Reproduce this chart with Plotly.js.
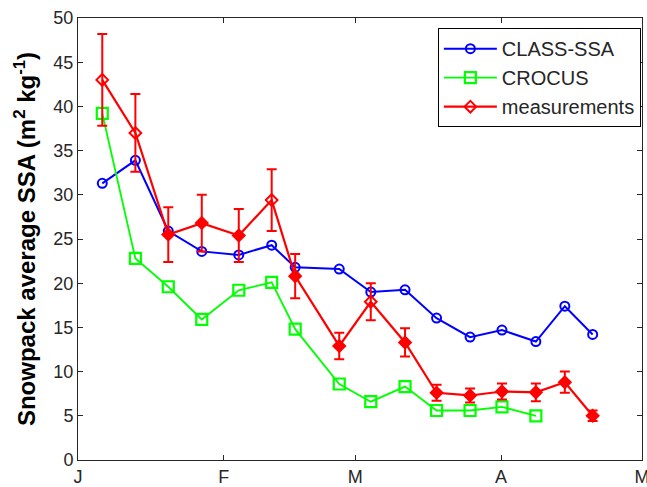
<!DOCTYPE html>
<html>
<head>
<meta charset="utf-8">
<script src="https://cdn.plot.ly/plotly-3.0.1.min.js"></script>
<style>html,body{margin:0;padding:0;background:#fff;}#chart{width:647px;height:487px;}</style>
</head>
<body>
<div id="chart"></div>
<script>
// Dates of observations (2011 season)
const dates = [
  "2011-01-06 04:00", "2011-01-13 05:00", "2011-01-20 05:00", "2011-01-27 08:00",
  "2011-02-04 05:00", "2011-02-11 05:00", "2011-02-16 05:00", "2011-02-25 14:00",
  "2011-03-04 07:00", "2011-03-11 14:00", "2011-03-18 07:00", "2011-03-25 10:00",
  "2011-04-01 05:00", "2011-04-08 10:00", "2011-04-14 14:00", "2011-04-20 12:00"
];
const classSSA = [31.3, 33.9, 25.9, 23.6, 23.2, 24.3, 21.8, 21.6, 19.0, 19.25, 16.05, 13.9, 14.7, 13.4, 17.4, 14.2];
const crocus   = [39.2, 22.8, 19.6, 15.9, 19.2, 20.1, 14.8, 8.6, 6.6, 8.3, 5.6, 5.6, 6.0, 5.0];
const measured = [43.0, 37.0, 25.5, 26.8, 25.4, 29.4, 20.8, 12.9, 17.9, 13.3, 7.6, 7.3, 7.75, 7.65, 8.8, 5.0];
const measErr  = [5.2, 4.4, 3.1, 3.2, 3.0, 3.5, 2.5, 1.5, 2.1, 1.6, 0.9, 0.8, 0.9, 1.0, 1.2, 0.6];
const tickDates = ["2011-01-01", "2011-02-01", "2011-03-01", "2011-04-01", "2011-05-01"];
const tickLabels = ["J", "F", "M", "A", "M"];

const measSymbols = measured.map((v, i) => [0, 1, 5, 8].includes(i) ? "diamond-open" : "diamond");

const traces = [
  {
    name: "CLASS-SSA", x: dates, y: classSSA, type: "scatter", mode: "lines+markers",
    line: {color: "#0000ff", width: 2},
    marker: {symbol: "circle-open", size: 9, color: "#0000ff", line: {width: 2, color: "#0000ff"}}
  },
  {
    name: "CROCUS", x: dates.slice(0, crocus.length), y: crocus, type: "scatter", mode: "lines+markers",
    line: {color: "#00ff00", width: 1.8},
    marker: {symbol: "square-open", size: 11, color: "#00ff00", line: {width: 2.2, color: "#00ff00"}}
  },
  {
    name: "measurements", x: dates, y: measured, type: "scatter", mode: "lines+markers",
    line: {color: "#ff0000", width: 2.2},
    marker: {symbol: measSymbols, size: 9, color: "#ff0000", line: {width: 2, color: "#ff0000"}},
    error_y: {type: "data", array: measErr, visible: true, color: "#ff0000", thickness: 2, width: 5}
  }
];

const fam = "Liberation Sans, Arial, sans-serif";
const axisFont = {family: fam, size: 18, color: "#262626"};

const layout = {
  width: 647, height: 487,
  paper_bgcolor: "#ffffff", plot_bgcolor: "#ffffff",
  margin: {l: 78, r: 5, t: 18, b: 27, pad: 0},
  showlegend: true,
  font: axisFont,
  xaxis: {
    type: "date", range: ["2011-01-01", "2011-05-01"],
    tickmode: "array", tickvals: tickDates, ticktext: tickLabels,
    ticks: "inside", ticklen: 5, tickcolor: "#262626", tickwidth: 1,
    showline: true, linecolor: "#262626", linewidth: 1, mirror: "ticks",
    showgrid: false, zeroline: false, tickfont: axisFont,
    ticklabeloverflow: "allow"
  },
  yaxis: {
    range: [0, 50], tickmode: "linear", tick0: 0, dtick: 5,
    ticks: "inside", ticklen: 5, tickcolor: "#262626", tickwidth: 1,
    showline: true, linecolor: "#262626", linewidth: 1, mirror: "ticks",
    showgrid: false, zeroline: false, tickfont: axisFont,
    title: {
      text: "<b>Snowpack average SSA (m<sup>2</sup> kg<sup>-1</sup>)</b>",
      font: {family: fam, size: 24, color: "#000"},
      standoff: 10
    }
  },
  legend: {
    x: 0.998, xanchor: "right", y: 0.977, yanchor: "top",
    bgcolor: "#ffffff", bordercolor: "#000000", borderwidth: 1,
    font: {family: fam, size: 20, color: "#262626"},
    itemwidth: 53, tracegroupgap: 0
  }
};

Plotly.newPlot("chart", traces, layout, {displayModeBar: false, staticPlot: true});
</script>
</body>
</html>
